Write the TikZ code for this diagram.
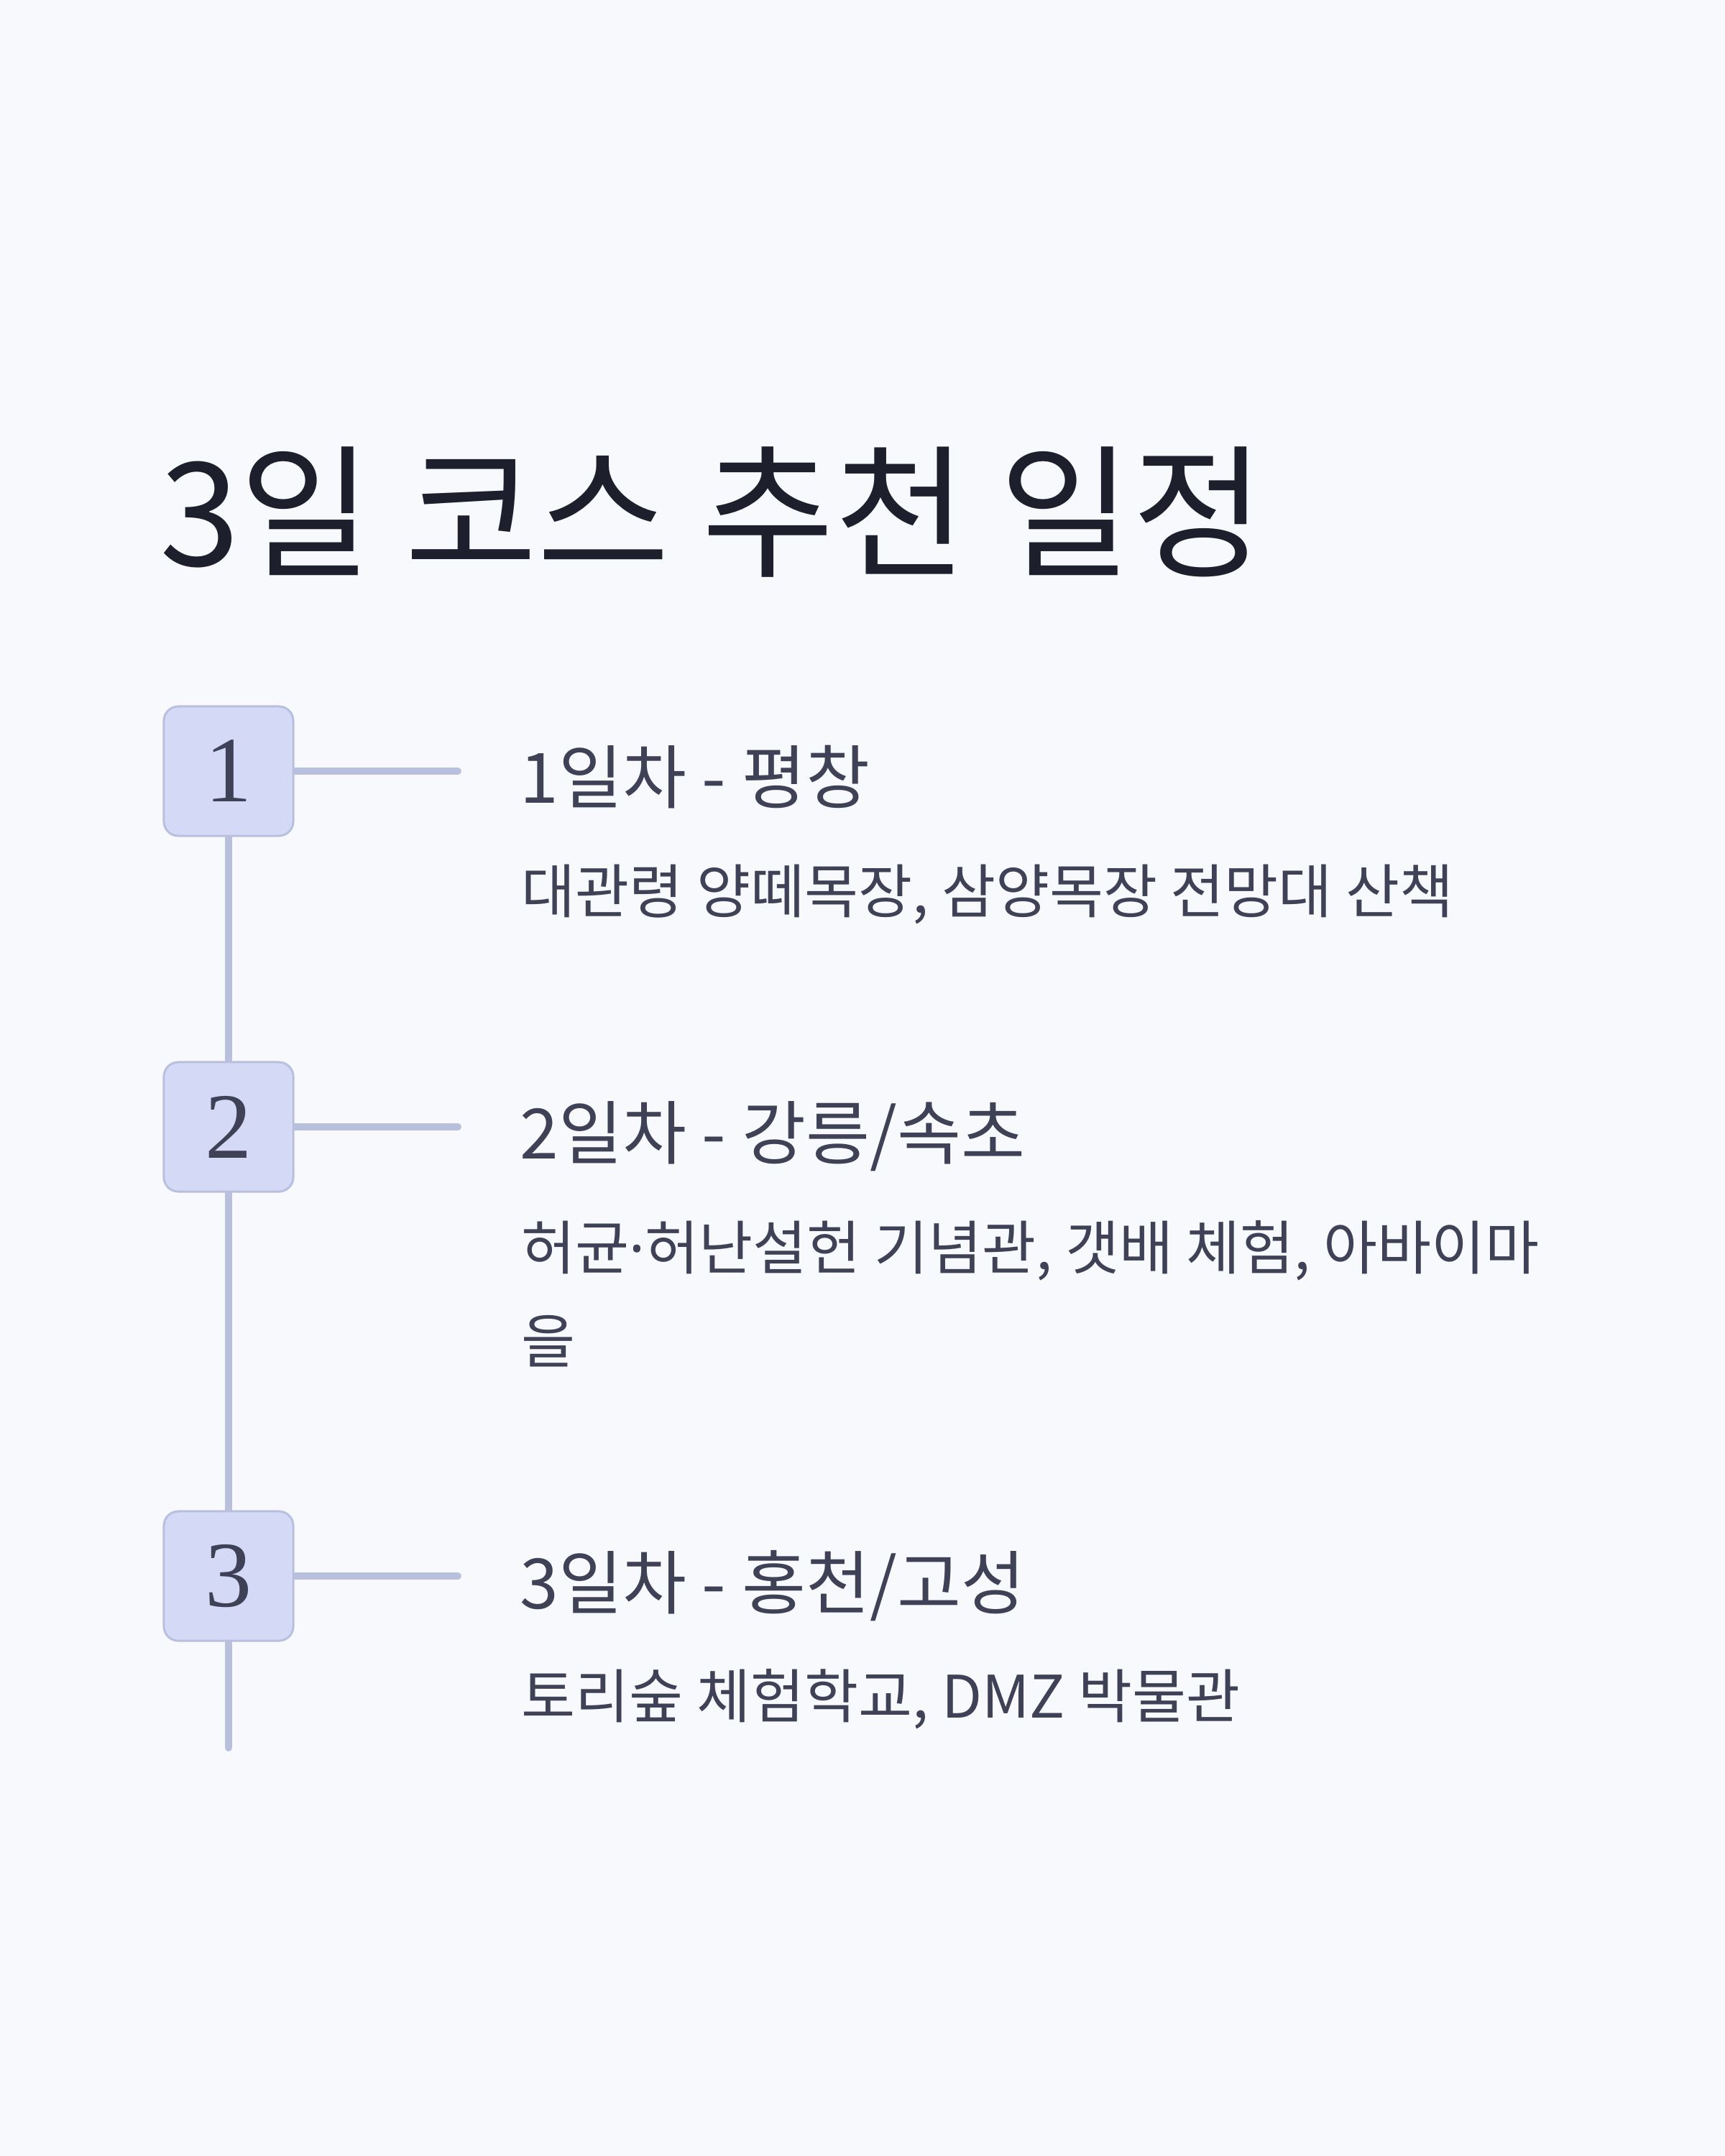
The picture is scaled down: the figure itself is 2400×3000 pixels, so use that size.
\documentclass[tikz,border=0pt]{standalone}
\usepackage{fontspec}
\setmainfont{Noto Sans CJK KR}
\newfontfamily\numfont{Liberation Serif}
\newfontfamily\latinfont{Noto Sans}
\usetikzlibrary{positioning, backgrounds}

\definecolor{bgcol}{HTML}{F8F9FD}
\definecolor{titlecol}{HTML}{1E1F2C}
\definecolor{textcol}{HTML}{3F4156}
\definecolor{boxfill}{HTML}{D4DAF6}
\definecolor{linecol}{HTML}{B8C0DE}

\begin{document}
\begin{tikzpicture}[
    x=0.01cm, y=0.01cm,
    daybox/.style={draw=linecol, line width=0.85pt, fill=boxfill, rounded corners=5.7pt,
                   minimum size=1.8cm, inner sep=0pt, text=textcol,
                   font=\numfont\fontsize{37}{37}\selectfont},
    link/.style={draw=linecol, line width=2.85pt, line cap=round},
    head/.style={anchor=base west, inner sep=0pt, text=textcol,
                 font=\fontsize{27.5}{32}\selectfont},
    desc/.style={anchor=base west, inner sep=0pt, align=left, text=textcol,
                 font=\fontsize{23.2}{36.9}\selectfont},
]
\node[anchor=base west, inner sep=0pt, text=titlecol, font=\fontsize{57}{64}\selectfont]
    (title) at (222,-787) {3일 코스 추천 일정};

% timeline boxes
\node[daybox] (d1) at (318,-1073) {1};
\node[daybox] (d2) at (318,-1568) {2};
\node[daybox] (d3) at (318,-2193) {3};
\coordinate (tl-end) at (318,-2432);
\coordinate (e1) at (637,-1073);
\coordinate (e2) at (637,-1568);
\coordinate (e3) at (637,-2193);

% days
\node[head] (h1) at (723,-1117) {1일차 - 평창};
\node[desc] (s1) at (725,-1270) {대관령 양떼목장, 삼양목장 전망대 산책};
\node[head] (h2) at (723,-1612) {2일차 - 강릉/속초};
% base of a two-line node is its last line
\node[desc] (s2) at (725,-1896) {허균{\latinfont ·}허난설헌 기념관, 갯배 체험, 아바이마\\을};
\node[head] (h3) at (723,-2238) {3일차 - 홍천/고성};
\node[desc] (s3) at (725,-2390) {토리숲 체험학교, DMZ 박물관};

\begin{pgfonlayer}{background}
\fill[bgcol] (0,0) rectangle (2400,-3000);
\draw[link] (d1) -- (d2) -- (d3) -- (tl-end);
\draw[link] (d1) -- (e1);
\draw[link] (d2) -- (e2);
\draw[link] (d3) -- (e3);
\end{pgfonlayer}
\end{tikzpicture}
\end{document}
